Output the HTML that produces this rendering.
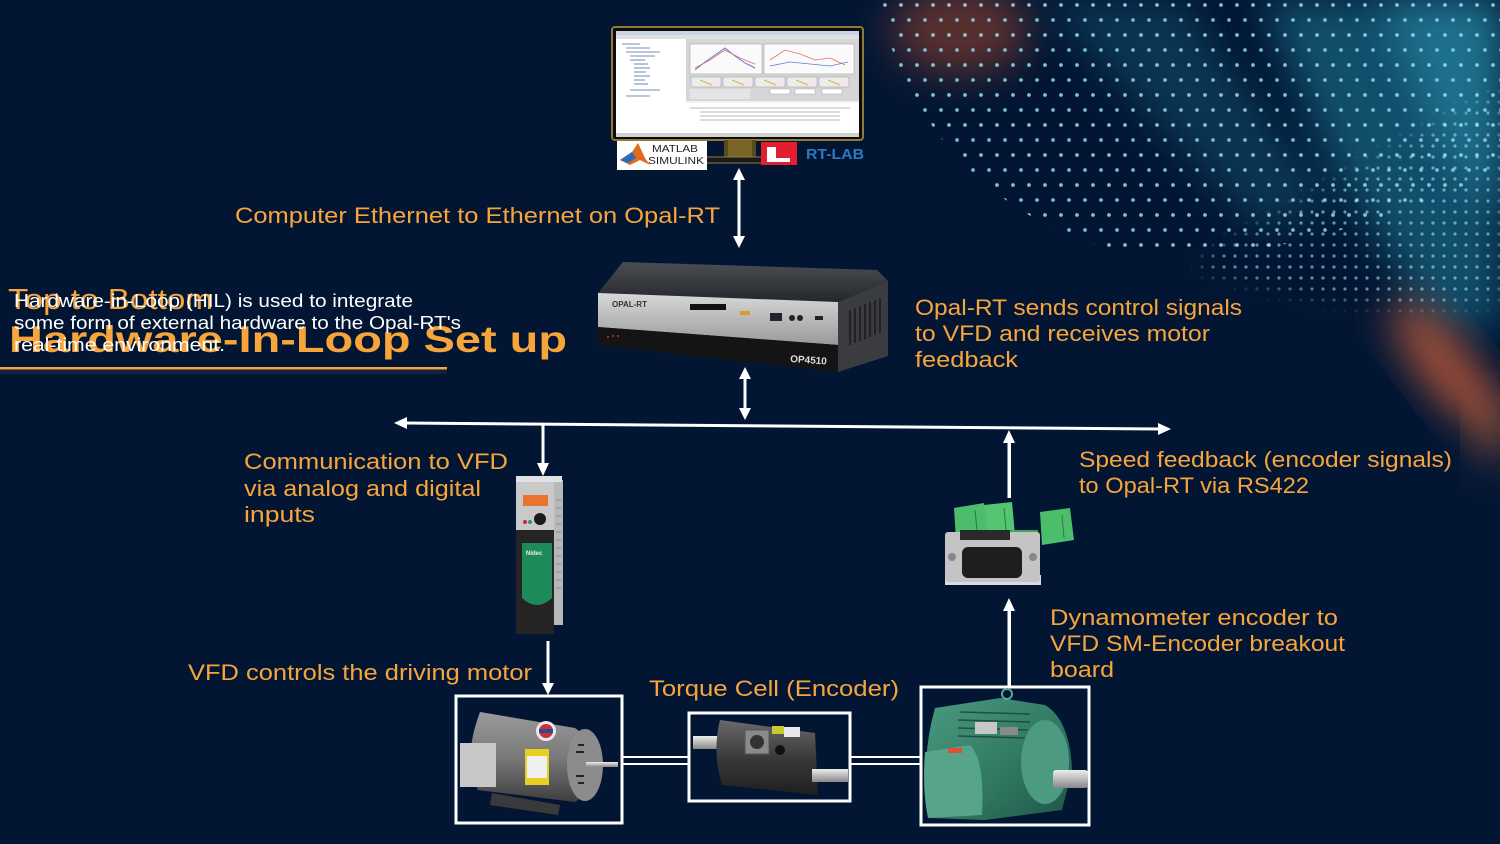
<!DOCTYPE html>
<html>
<head>
<meta charset="utf-8">
<style>
html,body{margin:0;padding:0;background:#021634;}
body{width:1500px;height:844px;overflow:hidden;}
svg{display:block;}
text{font-family:"Liberation Sans",sans-serif;}
.lbl{fill:#f7a53b;font-size:22px;}
</style>
</head>
<body>
<svg width="1500" height="844" viewBox="0 0 1500 844" xmlns="http://www.w3.org/2000/svg">
<defs>
  <filter id="b20" x="-50%" y="-50%" width="200%" height="200%"><feGaussianBlur stdDeviation="20"/></filter>
  <filter id="b8" x="-50%" y="-50%" width="200%" height="200%"><feGaussianBlur stdDeviation="8"/></filter>
  <pattern id="dots" x="0" y="0" width="32" height="30" patternUnits="userSpaceOnUse">
    <circle cx="5" cy="5" r="1.9" fill="#9adcec"/>
    <circle cx="21" cy="5" r="1.9" fill="#9adcec"/>
    <circle cx="13" cy="20" r="1.9" fill="#8ad2e6"/>
    <circle cx="29" cy="20" r="1.9" fill="#8ad2e6"/>
  </pattern>
  <pattern id="dots2" x="0" y="0" width="11" height="11" patternUnits="userSpaceOnUse">
    <circle cx="3" cy="3" r="1.6" fill="#a6e4f2"/>
  </pattern>
  <mask id="band">
    <path d="M878,0 C900,110 980,215 1110,248 C1220,268 1330,245 1500,170 L1500,0 Z" fill="#fff"/>
  </mask>
  <mask id="band2">
    <path d="M1200,260 C1300,200 1420,130 1500,90 L1500,300 C1420,320 1300,300 1200,270 Z" fill="#fff" filter="url(#b8)"/>
  </mask>
  <linearGradient id="opTop" x1="0" y1="0" x2="0" y2="1">
    <stop offset="0" stop-color="#4a4d52"/>
    <stop offset="1" stop-color="#24272c"/>
  </linearGradient>
  <linearGradient id="opSilver" x1="0" y1="0" x2="0" y2="1">
    <stop offset="0" stop-color="#d8d8d8"/>
    <stop offset="1" stop-color="#9a9a9a"/>
  </linearGradient>
  <linearGradient id="m1" x1="0" y1="0" x2="0" y2="1">
    <stop offset="0" stop-color="#9a9a9a"/>
    <stop offset="0.5" stop-color="#7a7a7a"/>
    <stop offset="1" stop-color="#3e3e3e"/>
  </linearGradient>
  <linearGradient id="m2" x1="0" y1="0" x2="1" y2="1">
    <stop offset="0" stop-color="#4a9a80"/>
    <stop offset="0.6" stop-color="#2f7660"/>
    <stop offset="1" stop-color="#1f5444"/>
  </linearGradient>
  <linearGradient id="tc" x1="0" y1="0" x2="0" y2="1">
    <stop offset="0" stop-color="#6a6a6a"/>
    <stop offset="0.5" stop-color="#3a3a3a"/>
    <stop offset="1" stop-color="#1e1e1e"/>
  </linearGradient>
  <linearGradient id="shaft" x1="0" y1="0" x2="0" y2="1">
    <stop offset="0" stop-color="#eee"/>
    <stop offset="1" stop-color="#888"/>
  </linearGradient>
</defs>

<!-- background -->
<rect width="1500" height="844" fill="#021634"/>

<!-- glows & streaks -->
<ellipse cx="960" cy="30" rx="70" ry="45" fill="#b04a2c" opacity="0.5" filter="url(#b20)"/>
<polygon points="1040,0 1180,0 1340,210 1260,230" fill="#1d6f88" opacity="0.35" filter="url(#b20)"/>
<polygon points="1260,0 1500,0 1500,330 1430,320 1330,160" fill="#1a7490" opacity="0.6" filter="url(#b20)"/>
<polygon points="1380,0 1500,0 1500,220 1440,140" fill="#2a93ad" opacity="0.5" filter="url(#b20)"/>
<ellipse cx="1445" cy="365" rx="26" ry="80" transform="rotate(-38 1445 365)" fill="#d8643a" opacity="0.75" filter="url(#b20)"/>
<ellipse cx="1492" cy="430" rx="16" ry="35" fill="#e47a40" opacity="0.5" filter="url(#b20)"/>

<!-- dot field -->
<rect x="870" y="0" width="630" height="280" fill="url(#dots)" mask="url(#band)" opacity="0.85"/>
<rect x="1150" y="80" width="350" height="240" fill="url(#dots2)" mask="url(#band2)" opacity="0.6"/>

<!-- ===== Title area ===== -->
<text x="8" y="309" font-size="29" fill="#f7a53b" textLength="205" lengthAdjust="spacingAndGlyphs">Top to Bottom</text>
<text x="9" y="352" font-size="37" font-weight="bold" fill="#f7a53b" textLength="558" lengthAdjust="spacingAndGlyphs">Hardware-In-Loop Set up</text>
<text x="14" y="307" font-size="18" fill="#ffffff" textLength="399" lengthAdjust="spacingAndGlyphs">Hardware-in-Loop (HIL) is used to integrate</text>
<text x="14" y="329" font-size="18" fill="#ffffff" textLength="447" lengthAdjust="spacingAndGlyphs">some form of external hardware to the Opal-RT's</text>
<text x="14" y="351" font-size="18" fill="#ffffff" textLength="211" lengthAdjust="spacingAndGlyphs">real-time environment.</text>
<rect x="0" y="367" width="447" height="2.5" fill="#f7a53b"/>
<rect x="0" y="370" width="447" height="4" fill="#1e2e4a" opacity="0.5"/>

<!-- ===== Monitor ===== -->
<rect x="612" y="27" width="251" height="113" rx="3" fill="#0c0c0c" stroke="#8f7a3a" stroke-width="2"/>
<rect x="616" y="31" width="243" height="106" fill="#f2f2f2"/>
<rect x="616" y="31" width="243" height="4" fill="#c8d4e6"/>
<rect x="616" y="35" width="243" height="4" fill="#e0e0e0"/>
<rect x="616" y="39" width="70" height="64" fill="#ffffff"/>
<g stroke="#4a6aa8" stroke-width="0.8">
  <line x1="622" y1="44" x2="640" y2="44"/><line x1="626" y1="48" x2="650" y2="48"/>
  <line x1="626" y1="52" x2="660" y2="52"/><line x1="630" y1="56" x2="655" y2="56"/>
  <line x1="630" y1="60" x2="645" y2="60"/><line x1="634" y1="64" x2="648" y2="64"/>
  <line x1="634" y1="68" x2="650" y2="68"/><line x1="634" y1="72" x2="646" y2="72"/>
  <line x1="634" y1="76" x2="650" y2="76"/><line x1="634" y1="80" x2="645" y2="80"/>
  <line x1="634" y1="84" x2="648" y2="84"/><line x1="630" y1="90" x2="660" y2="90"/>
  <line x1="626" y1="96" x2="650" y2="96"/>
</g>
<rect x="686" y="39" width="173" height="62" fill="#d6d6d6"/>
<rect x="690" y="44" width="72" height="30" fill="#fafafa" stroke="#aaa" stroke-width="0.6"/>
<rect x="764" y="44" width="90" height="30" fill="#fafafa" stroke="#aaa" stroke-width="0.6"/>
<polyline points="695,70 705,62 715,55 725,48 735,56 745,63 755,68" fill="none" stroke="#5b7fd0" stroke-width="1"/>
<polyline points="695,68 710,60 725,50 740,58 755,64" fill="none" stroke="#e07070" stroke-width="0.8"/>
<polyline points="770,60 785,50 800,54 815,60 830,58 845,65" fill="none" stroke="#e07070" stroke-width="0.8"/>
<polyline points="770,66 790,62 810,64 830,66 848,62" fill="none" stroke="#5b7fd0" stroke-width="0.8"/>
<g fill="#ececec" stroke="#999" stroke-width="0.5">
  <rect x="691" y="77" width="30" height="10"/><rect x="723" y="77" width="30" height="10"/>
  <rect x="755" y="77" width="30" height="10"/><rect x="787" y="77" width="30" height="10"/>
  <rect x="819" y="77" width="30" height="10"/>
</g>
<g stroke="#e0a020" stroke-width="0.8">
  <line x1="700" y1="80" x2="712" y2="85"/><line x1="732" y1="80" x2="744" y2="85"/>
  <line x1="764" y1="80" x2="776" y2="85"/><line x1="796" y1="80" x2="808" y2="85"/>
  <line x1="828" y1="80" x2="840" y2="85"/>
</g>
<rect x="690" y="89" width="60" height="10" fill="#e4e4e4"/>
<rect x="770" y="89" width="20" height="5" fill="#fff" stroke="#999" stroke-width="0.4"/>
<rect x="795" y="89" width="20" height="5" fill="#fff" stroke="#999" stroke-width="0.4"/>
<rect x="822" y="89" width="20" height="5" fill="#fff" stroke="#999" stroke-width="0.4"/>
<rect x="616" y="103" width="243" height="30" fill="#ffffff"/>
<g stroke="#777" stroke-width="0.5">
  <line x1="690" y1="108" x2="850" y2="108"/><line x1="700" y1="112" x2="840" y2="112"/>
  <line x1="700" y1="116" x2="840" y2="116"/><line x1="700" y1="120" x2="840" y2="120"/>
</g>
<rect x="616" y="133" width="243" height="4" fill="#d0d0d0"/>
<!-- stand -->
<rect x="724" y="140" width="32" height="18" fill="#5a4a1e"/>
<rect x="728" y="140" width="24" height="18" fill="#7a6428"/>
<rect x="702" y="157" width="76" height="6" rx="2" fill="#1a1a1a" stroke="#8f7a3a" stroke-width="1"/>
<!-- MATLAB logo -->
<rect x="617" y="141" width="90" height="29" fill="#ffffff"/>
<polygon points="620,160 632,152 638,143 645,158 650,165 640,160 630,165" fill="#e06a1e"/>
<polygon points="620,160 632,152 636,158 628,163" fill="#2a6ab8"/>
<text x="652" y="152" font-size="10" fill="#222" font-family="Liberation Serif,serif" textLength="46" lengthAdjust="spacingAndGlyphs">MATLAB</text>
<text x="648" y="164" font-size="10" fill="#222" font-family="Liberation Serif,serif" textLength="56" lengthAdjust="spacingAndGlyphs">SIMULINK</text>
<!-- RT-LAB -->
<rect x="761" y="142" width="36" height="23" fill="#e11f2e"/>
<polygon points="767,147 776,147 776,158 790,158 790,162 767,162" fill="#ffffff"/>
<text x="806" y="159" font-size="15" font-weight="bold" fill="#2b7bbb" textLength="58" lengthAdjust="spacingAndGlyphs">RT-LAB</text>

<!-- ===== Opal-RT box ===== -->
<polygon points="598,293 623,262 877,270 888,281 838,302" fill="url(#opTop)"/>
<polygon points="598,293 838,302 838,345 598,327" fill="url(#opSilver)"/>
<polygon points="598,327 838,345 838,372 598,345" fill="#141414"/>
<polygon points="838,302 888,281 888,356 838,372" fill="#3a3c40"/>
<g stroke="#111" stroke-width="1.2">
  <line x1="850" y1="310" x2="850" y2="345"/><line x1="855" y1="308" x2="855" y2="343"/>
  <line x1="860" y1="306" x2="860" y2="341"/><line x1="865" y1="304" x2="865" y2="339"/>
  <line x1="870" y1="302" x2="870" y2="337"/><line x1="875" y1="300" x2="875" y2="335"/>
  <line x1="880" y1="298" x2="880" y2="333"/>
</g>
<text x="612" y="307" font-size="8" font-weight="bold" fill="#333">OPAL-RT</text>
<rect x="690" y="304" width="36" height="6" fill="#111"/>
<rect x="740" y="311" width="10" height="4" fill="#d9a020"/>
<rect x="770" y="313" width="12" height="8" fill="#223"/>
<circle cx="792" cy="318" r="3" fill="#222"/><circle cx="800" cy="318" r="3" fill="#222"/>
<rect x="815" y="316" width="8" height="4" fill="#222"/>
<g fill="#c03030"><circle cx="608" cy="337" r="1"/><circle cx="613" cy="336" r="1"/><circle cx="618" cy="336" r="1"/></g>
<text x="790" y="362" font-size="10" font-weight="bold" fill="#ddd" transform="rotate(4 790 362)">OP4510</text>

<!-- ===== Arrows ===== -->
<g fill="#ffffff" stroke="none">
  <rect x="737.5" y="178" width="3" height="60"/>
  <polygon points="739,168 733,180 745,180"/>
  <polygon points="739,248 733,236 745,236"/>
  <rect x="743.5" y="376" width="3" height="36"/>
  <polygon points="745,367 739,379 751,379"/>
  <polygon points="745,420 739,408 751,408"/>
  <polygon points="394,423 407,417 407,429"/>
  <polygon points="1171,429 1158,423 1158,435"/>
  <rect x="541.5" y="425" width="3" height="40"/>
  <polygon points="543,476 537,463 549,463"/>
  <rect x="1007.5" y="442" width="3.5" height="56"/>
  <polygon points="1009,430 1003,443 1015,443"/>
  <rect x="546.5" y="641" width="3" height="44"/>
  <polygon points="548,695 542,683 554,683"/>
  <rect x="1007.5" y="610" width="3.5" height="76"/>
  <polygon points="1009,598 1003,611 1015,611"/>
</g>
<line x1="404" y1="423" x2="1162" y2="429" stroke="#ffffff" stroke-width="3"/>

<!-- ===== VFD ===== -->
<rect x="553" y="480" width="10" height="145" fill="#b8b8b8"/>
<g stroke="#888" stroke-width="1">
  <line x1="556" y1="500" x2="561" y2="500"/><line x1="556" y1="508" x2="561" y2="508"/>
  <line x1="556" y1="516" x2="561" y2="516"/><line x1="556" y1="524" x2="561" y2="524"/>
  <line x1="556" y1="532" x2="561" y2="532"/><line x1="556" y1="540" x2="561" y2="540"/>
  <line x1="556" y1="548" x2="561" y2="548"/><line x1="556" y1="556" x2="561" y2="556"/>
  <line x1="556" y1="564" x2="561" y2="564"/><line x1="556" y1="572" x2="561" y2="572"/>
  <line x1="556" y1="580" x2="561" y2="580"/><line x1="556" y1="588" x2="561" y2="588"/>
</g>
<rect x="516" y="478" width="38" height="54" fill="#c9c9c9"/>
<rect x="516" y="476" width="46" height="6" fill="#e2e2e2"/>
<rect x="523" y="495" width="25" height="11" fill="#e8742e"/>
<circle cx="540" cy="519" r="6" fill="#1a1a1a"/>
<circle cx="525" cy="522" r="2" fill="#c03030"/>
<circle cx="530" cy="522" r="2" fill="#2a9a5a"/>
<rect x="516" y="530" width="38" height="104" fill="#242424"/>
<path d="M522,543 L552,543 L552,598 Q537,612 522,598 Z" fill="#1e8a5a"/>
<text x="526" y="555" font-size="6" fill="#e8f0e8" font-weight="bold">Nidec</text>

<!-- ===== Encoder board ===== -->
<rect x="945" y="575" width="96" height="10" fill="#dcdcdc"/>
<polygon points="954,508 984,503 988,536 956,540" fill="#4cbd6a"/>
<polygon points="984,505 1012,502 1015,535 988,537" fill="#55c572"/>
<polygon points="1040,512 1070,508 1074,540 1042,545" fill="#4cbd6a"/>
<g stroke="#2e7a44" stroke-width="1">
  <line x1="975" y1="510" x2="977" y2="530"/><line x1="1004" y1="508" x2="1006" y2="530"/>
  <line x1="1062" y1="515" x2="1064" y2="538"/>
</g>
<rect x="998" y="530" width="40" height="40" fill="#3ea85a"/>
<rect x="945" y="532" width="95" height="50" rx="3" fill="#c4c4c4"/>
<rect x="960" y="530" width="50" height="10" fill="#2a2a2a"/>
<rect x="962" y="547" width="60" height="31" rx="6" fill="#1e1e1e"/>
<circle cx="952" cy="557" r="4" fill="#888"/>
<circle cx="1033" cy="557" r="4" fill="#888"/>

<!-- ===== Boxes ===== -->
<g fill="none" stroke="#ffffff" stroke-width="3">
  <rect x="456" y="696" width="166" height="127"/>
  <rect x="689" y="713" width="161" height="88"/>
  <rect x="921" y="687" width="168" height="138"/>
</g>
<g stroke="#ffffff" stroke-width="2">
  <line x1="623" y1="757" x2="688" y2="757"/>
  <line x1="623" y1="764" x2="688" y2="764"/>
  <line x1="851" y1="757" x2="920" y2="757"/>
  <line x1="851" y1="764" x2="920" y2="764"/>
</g>

<!-- Motor 1 (gray) -->
<path d="M480,712 L575,728 Q600,745 598,785 L575,802 L478,790 Q462,760 480,712 Z" fill="url(#m1)"/>
<ellipse cx="585" cy="765" rx="18" ry="36" fill="#8c8c8c"/>
<g stroke="#222" stroke-width="2">
  <line x1="578" y1="745" x2="584" y2="745"/><line x1="576" y1="752" x2="584" y2="752"/>
  <line x1="576" y1="776" x2="584" y2="776"/><line x1="578" y1="783" x2="584" y2="783"/>
</g>
<rect x="586" y="762" width="32" height="5" fill="url(#shaft)"/>
<rect x="460" y="743" width="36" height="44" fill="#c8c8c8"/>
<polygon points="492,793 560,805 558,815 490,805" fill="#3a3a3a"/>
<rect x="525" y="749" width="24" height="36" fill="#e8d020"/>
<rect x="527" y="756" width="20" height="22" fill="#f0f0f0"/>
<circle cx="546" cy="731" r="10" fill="#e8e8f0"/>
<circle cx="546" cy="731" r="7" fill="#d03030"/>
<rect x="539" y="729" width="14" height="4" fill="#2a4a9a"/>

<!-- Torque cell -->
<rect x="693" y="736" width="30" height="13" fill="url(#shaft)"/>
<path d="M720,720 L815,733 L818,795 L722,785 Q712,752 720,720 Z" fill="url(#tc)"/>
<rect x="745" y="730" width="24" height="24" fill="#8a8a8a" stroke="#555"/>
<circle cx="757" cy="742" r="7" fill="#333"/>
<circle cx="780" cy="750" r="5" fill="#111"/>
<rect x="772" y="726" width="12" height="8" fill="#c8c830"/>
<rect x="784" y="727" width="16" height="10" fill="#e8e8e8"/>
<rect x="812" y="769" width="36" height="13" fill="url(#shaft)"/>

<!-- Motor 2 (green) -->
<path d="M935,708 L1000,698 L1045,705 Q1070,720 1072,770 L1062,810 L985,820 L930,818 Q920,760 935,708 Z" fill="url(#m2)"/>
<ellipse cx="1045" cy="762" rx="24" ry="42" fill="#4c9a82"/>
<g stroke="#1e5040" stroke-width="1.5">
  <line x1="960" y1="712" x2="1030" y2="714"/><line x1="958" y1="720" x2="1030" y2="722"/>
  <line x1="958" y1="728" x2="1028" y2="730"/><line x1="958" y1="736" x2="1025" y2="738"/>
</g>
<rect x="975" y="722" width="22" height="12" fill="#c8c8c8"/>
<rect x="1000" y="727" width="18" height="8" fill="#8a8a8a"/>
<circle cx="1007" cy="694" r="5" fill="none" stroke="#5aa88e" stroke-width="2"/>
<path d="M925,752 L970,745 Q985,760 982,815 L928,818 Q922,790 925,752 Z" fill="#56a48a"/>
<rect x="948" y="748" width="14" height="5" fill="#e05030"/>
<rect x="1053" y="770" width="35" height="18" rx="3" fill="url(#shaft)"/>

<!-- ===== Labels ===== -->
<text class="lbl" x="235" y="223" textLength="485" lengthAdjust="spacingAndGlyphs">Computer Ethernet to Ethernet on Opal-RT</text>

<text class="lbl" x="915" y="315" textLength="327" lengthAdjust="spacingAndGlyphs">Opal-RT sends control signals</text>
<text class="lbl" x="915" y="341" textLength="295" lengthAdjust="spacingAndGlyphs">to VFD and receives motor</text>
<text class="lbl" x="915" y="367" textLength="103" lengthAdjust="spacingAndGlyphs">feedback</text>

<text class="lbl" x="244" y="469" textLength="264" lengthAdjust="spacingAndGlyphs">Communication to VFD</text>
<text class="lbl" x="244" y="496" textLength="237" lengthAdjust="spacingAndGlyphs">via analog and digital</text>
<text class="lbl" x="244" y="522" textLength="71" lengthAdjust="spacingAndGlyphs">inputs</text>

<text class="lbl" x="1079" y="467" textLength="373" lengthAdjust="spacingAndGlyphs">Speed feedback (encoder signals)</text>
<text class="lbl" x="1079" y="493" textLength="230" lengthAdjust="spacingAndGlyphs">to Opal-RT via RS422</text>

<text class="lbl" x="188" y="680" textLength="344" lengthAdjust="spacingAndGlyphs">VFD controls the driving motor</text>
<text class="lbl" x="649" y="696" textLength="250" lengthAdjust="spacingAndGlyphs">Torque Cell (Encoder)</text>

<text class="lbl" x="1050" y="625" textLength="288" lengthAdjust="spacingAndGlyphs">Dynamometer encoder to</text>
<text class="lbl" x="1050" y="651" textLength="295" lengthAdjust="spacingAndGlyphs">VFD SM-Encoder breakout</text>
<text class="lbl" x="1050" y="677" textLength="64" lengthAdjust="spacingAndGlyphs">board</text>
</svg>
</body>
</html>
